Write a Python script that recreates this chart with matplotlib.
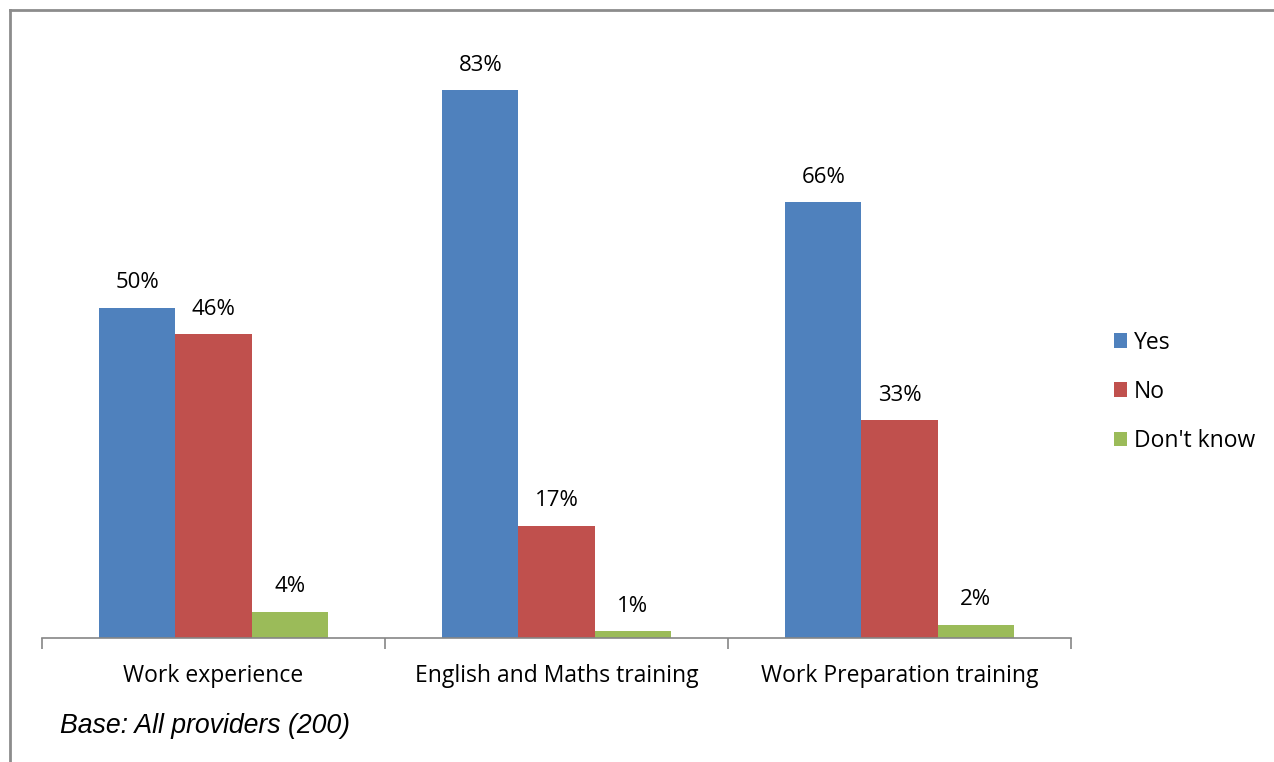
import numpy as np
import matplotlib.pyplot as plt
from matplotlib.lines import Line2D

categories = ['Work experience', 'English and Maths training', 'Work Preparation training']
series = ['Yes', 'No', "Don't know"]
yes_vals = [50, 83, 66]
no_vals = [46, 17, 33]
dk_vals = [4, 1, 2]
colors = ['#4f81bd', '#c0504d', '#9bbb59']

W, H = 1274, 762
fig = plt.figure(figsize=(W / 100, H / 100), dpi=100)
plt.rcParams['font.family'] = ['Open Sans', 'DejaVu Sans']

# plot area in pixels: x 42..1071, baseline at y=638
left, right = 42, 1071
bottom, top = 638, 38
ax = fig.add_axes([left / W, 1 - bottom / H, (right - left) / W, (bottom - top) / H])

x = np.arange(len(categories))
bw = 1 / 4.5
vals = [yes_vals, no_vals, dk_vals]
for i, (name, v) in enumerate(zip(series, vals)):
    pos = x + (i - 1) * bw
    bars = ax.bar(pos, v, width=bw, color=colors[i], label=name)
    for xp, val in zip(pos, v):
        ax.text(xp, val + 3.8, f'{val}%', ha='center', va='center', fontsize=16, color='black')

ax.set_xlim(-0.5, 2.5)
ax.set_ylim(0, (bottom - top) / 6.6)
ax.set_yticks([])
for s in ['top', 'right', 'left']:
    ax.spines[s].set_visible(False)
ax.spines['bottom'].set_color('#868686')
ax.spines['bottom'].set_linewidth(1.2)
ax.set_xticks([-0.5, 0.5, 1.5, 2.5])
ax.set_xticklabels([])
ax.tick_params(axis='x', length=8, width=1.2, color='#868686', direction='out')
for xi, c in zip(x, categories):
    ax.text(xi, -5.7, c, ha='center', va='center', fontsize=16.5, color='black')

ax.legend(loc='upper left', bbox_to_anchor=(1093 / W, 1 - 310 / H), bbox_transform=fig.transFigure,
          frameon=False, fontsize=16.5, handlelength=0.6, handleheight=0.6,
          handletextpad=0.3, labelspacing=1.1)

fig.text(60 / W, 1 - 726 / H, 'Base: All providers (200)', fontsize=19.2, style='italic',
         family='Liberation Sans', ha='left', va='center')

# outer border (top and left visible)
fig.add_artist(Line2D([10 / W, 1.0], [1 - 10 / H, 1 - 10 / H], color='#8c8c8c', lw=2, transform=fig.transFigure))
fig.add_artist(Line2D([10 / W, 10 / W], [0, 1 - 10 / H], color='#8c8c8c', lw=2, transform=fig.transFigure))

fig.savefig('out.png', dpi=100)
